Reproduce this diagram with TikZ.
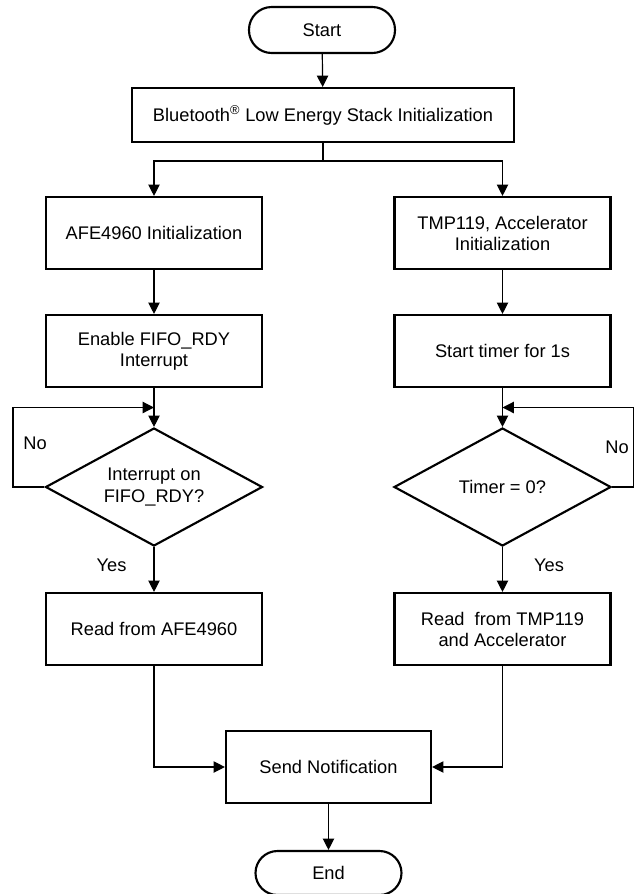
\documentclass[tikz,border=0pt]{standalone}
\usepackage{fontspec}
\setmainfont{Liberation Sans}
\usetikzlibrary{shapes.geometric,arrows.meta,calc}

\tikzstyle{chart font}=[font=\fontsize{13.7}{15.8}\selectfont]
\tikzstyle{terminal}=[chart font, draw=black, line width=1.6pt, rounded corners=17pt, minimum width=109.5pt, minimum height=34.5pt, inner sep=0pt]
\tikzstyle{process}=[chart font, draw=black, line width=1.6pt, minimum width=162pt, minimum height=54pt, align=center, inner sep=0pt]
\tikzstyle{decision}=[chart font, draw=black, line width=1.6pt, diamond, aspect=1.84, minimum width=162.75pt, minimum height=88.5pt, align=center, inner sep=0pt]
\tikzstyle{flow}=[line width=0.9pt, -{Triangle[length=8.5pt,width=8.5pt]}]
\tikzstyle{plain flow}=[line width=0.9pt]
\tikzstyle{answer}=[chart font]

\begin{document}
\begin{tikzpicture}[x=0.75pt, y=-0.75pt]
	\fill[white] (0,0) rectangle (634,894);
	\useasboundingbox (0,0) rectangle (634,894);

	% main column
	\node[terminal] (start) at (322,30) {Start};
	\node[process, minimum width=286.5pt, minimum height=40.5pt] (ble) at (323,115)
		{Bluetooth\textsuperscript{®} Low Energy Stack Initialization};

	% AFE branch
	\node[process] (afe init) at (154,233) {AFE4960 Initialization};
	\node[process] (fifo enable) at (154,351) {Enable FIFO\_RDY\\Interrupt};
	\node[decision] (fifo check) at (154,487) {Interrupt on\\FIFO\_RDY?};
	\node[process] (afe read) at (154,629) {Read from AFE4960};

	% TMP119 branch
	\node[process] (tmp init) at (502.5,233) {TMP119, Accelerator\\Initialization};
	\node[process] (timer start) at (502.5,351) {Start timer for 1s};
	\node[decision] (timer check) at (502.5,487) {Timer = 0?};
	\node[process] (tmp read) at (502.5,629) {Read\ \ from TMP119\\and Accelerator};

	\node[process, minimum width=153.75pt] (notify) at (328.5,767) {Send Notification};
	\node[terminal, minimum height=33pt, rounded corners=16.5pt] (end) at (328.5,873) {End};

	\coordinate (split) at (323,161);
	\coordinate (afe loop) at ($(fifo enable.south)!0.5!(fifo check.north)$);
	\coordinate (tmp loop) at ($(timer start.south)!0.5!(timer check.north)$);

	\draw[flow] (start) -- (ble);
	\draw[plain flow] (ble) -- (split);
	\draw[flow] (split) -| (afe init);
	\draw[flow] (split) -| (tmp init);

	\draw[flow] (afe init) -- (fifo enable);
	\draw[flow] (fifo enable) -- (fifo check);
	\draw[flow] (fifo check.west) -- (13,487) |- (afe loop);
	\draw[flow] (fifo check) -- (afe read);

	\draw[flow] (tmp init) -- (timer start);
	\draw[flow] (timer start) -- (timer check);
	\draw[flow] (timer check.east) -- (634,487) |- (tmp loop);
	\draw[flow] (timer check) -- (tmp read);

	\draw[flow] (afe read) |- (notify);
	\draw[flow] (tmp read) |- (notify);
	\draw[flow] (notify) -- (end);

	\node[answer] (afe no) at (35,443) {No};
	\node[answer] (afe yes) at (111.5,565) {Yes};
	\node[answer] (tmp no) at (617,447) {No};
	\node[answer] (tmp yes) at (549,565) {Yes};
\end{tikzpicture}
\end{document}
